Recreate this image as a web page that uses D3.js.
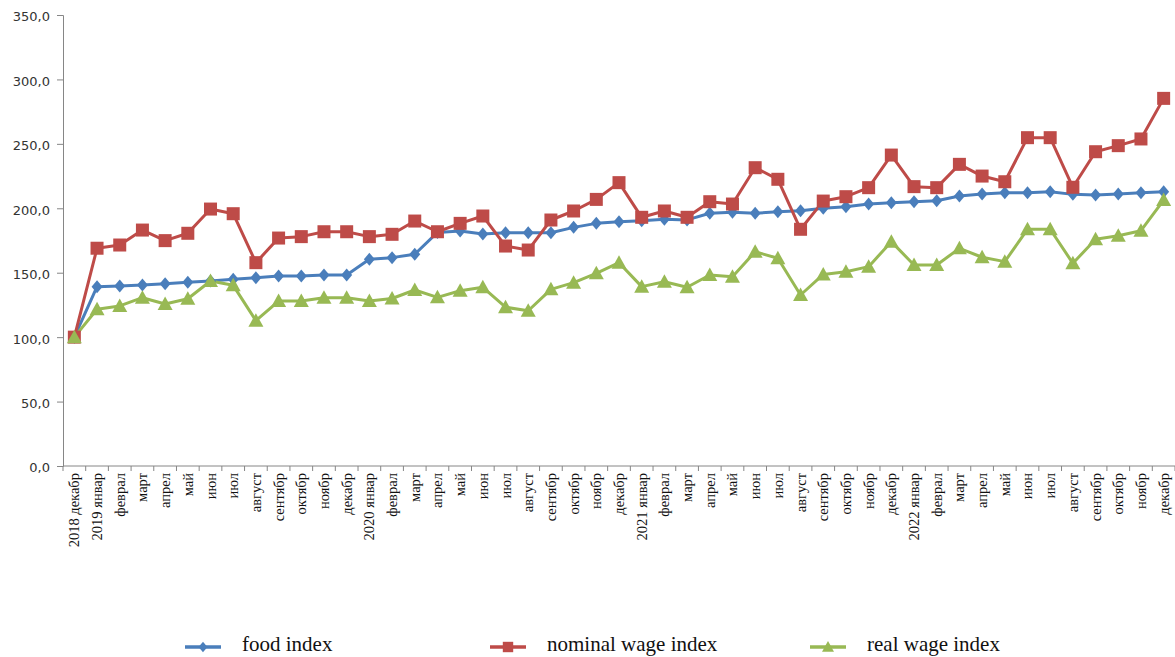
<!DOCTYPE html>
<html><head><meta charset="utf-8">
<script src="https://cdn.jsdelivr.net/npm/d3@7"></script>
<style>
html,body{margin:0;padding:0;background:#fff;}
svg{display:block;}
text{font-family:"Liberation Serif","Times New Roman",serif;}
</style></head>
<body>
<svg id="chart" width="1175" height="657"></svg>
<script>
const months = ["январ","феврал","март","апрел","май","июн","июл","август","сентябр","октябр","ноябр","декабр"];
const categories = ["2018 декабр"];
[2019,2020,2021,2022].forEach(yr => months.forEach((m,i) => categories.push(i===0 ? yr + " " + m : m)));

const foodIndex = [100,139.2,139.7,140.5,141.5,142.6,143.6,144.9,146.1,147.4,147.4,148.2,148.2,
  160.4,161.7,164.3,181.3,182.4,180,181,181,181,185.2,188.3,189.6,
  190.4,191.4,191,196.1,196.9,196.1,197.4,198.1,200,201.2,203.3,204.3,
  205.1,205.9,209.5,211.1,212.1,212.1,212.9,210.8,210.3,211.1,212.1,212.9];
const nominalWageIndex = [100,169,171.5,183.1,174.9,180.6,199.4,195.8,157.8,176.9,178,181.8,181.8,
  178,179.8,190.1,181.8,188.3,194,170.7,167.6,190.9,197.9,206.9,219.9,
  193,197.9,193,205.1,203.3,231.5,222.5,183.7,205.6,209,216,241.3,
  216.8,216,234.1,225,220.6,254.8,254.8,216.3,243.9,248.6,253.8,285.3];
const realWageIndex = [100,121.6,124.2,130.6,125.7,129.8,143.6,140.2,112.8,128,128,130.6,130.6,
  128,130,136.6,130.9,136,138.7,123.2,120.5,137.1,142.3,149.5,157.8,
  139.2,143,138.7,148.2,146.9,166.3,161.2,132.7,148.7,150.8,154.7,174.1,
  156,156,168.9,162,158.6,183.7,183.7,157.3,175.9,178.7,182.6,206.4];
const yTicks = [0,50,100,150,200,250,300,350];
const seriesNames = ["food index","nominal wage index","real wage index"];

const series = [
  {name: seriesNames[0], values: foodIndex, color:"#4A7EBB", shape:"diamond"},
  {name: seriesNames[1], values: nominalWageIndex, color:"#BE4B48", shape:"square"},
  {name: seriesNames[2], values: realWageIndex, color:"#98B954", shape:"triangle"}
];

const svg = d3.select("#chart");
const mLeft = 63, mRight = 1175, mTop = 15, mBottom = 466;

const x = d3.scaleBand().domain(d3.range(categories.length)).range([mLeft, mRight]).paddingInner(0).paddingOuter(0);
const y = d3.scaleLinear().domain([0,350]).range([mBottom, mTop]);
const cx = i => x(i) + x.bandwidth()/2;

// Y axis
const yAxis = svg.append("g").attr("transform", `translate(${mLeft},0)`)
  .call(d3.axisLeft(y).tickValues(yTicks).tickSize(6).tickPadding(7).tickFormat(d => d3.format(".1f")(d).replace(".", ",")));
yAxis.select(".domain").attr("stroke","#868686");
yAxis.selectAll(".tick line").attr("stroke","#868686");
yAxis.selectAll("text").attr("font-size","13px").attr("fill","#333").attr("dy","0.45em")
  .style("font-family","'DejaVu Sans', sans-serif");

// X axis line + ticks at band edges
const xg = svg.append("g");
xg.append("line").attr("x1", mLeft).attr("x2", mRight).attr("y1", mBottom).attr("y2", mBottom).attr("stroke","#868686");
const edges = d3.range(categories.length).map(i => x(i)).concat([x(categories.length-1) + x.bandwidth()]);
xg.selectAll("line.tk").data(edges).enter().append("line")
  .attr("x1", d => d).attr("x2", d => d).attr("y1", mBottom).attr("y2", mBottom + 5).attr("stroke","#868686");
xg.selectAll("text.lbl").data(categories).enter().append("text")
  .attr("transform", (d,i) => `translate(${cx(i) + 5},${mBottom + 7}) rotate(-90)`)
  .attr("text-anchor","end")
  .attr("font-size","14.5px").attr("fill","#111")
  .text(d => d);

// Lines
const line = d3.line().x((d,i) => cx(i)).y(d => y(d));
function marker(sel, shape, color, k) {
  k = k || 1;
  if (shape === "diamond") {
    sel.append("path").attr("d", `M0,${-6.5*k}L${5.5*k},0L0,${6.5*k}L${-5.5*k},0Z`).attr("fill", color);
  } else if (shape === "square") {
    sel.append("rect").attr("x",-6.5*k).attr("y",-6.5*k).attr("width",13*k).attr("height",13*k).attr("fill", color);
  } else {
    sel.append("path").attr("d",`M0,${-7.5*k}L${7.5*k},${6*k}L${-7.5*k},${6*k}Z`).attr("fill", color);
  }
}
series.forEach(s => {
  svg.append("path").datum(s.values).attr("d", line).attr("fill","none")
    .attr("stroke", s.color).attr("stroke-width", 3).attr("stroke-linejoin","round");
});
series.forEach(s => {
  const g = svg.append("g");
  s.values.forEach((v,i) => {
    const m = g.append("g").attr("transform", `translate(${cx(i)},${y(v)})`);
    marker(m, s.shape, s.color);
  });
});

// Legend
const legendX = [185, 490, 810];
series.forEach((s,k) => {
  const g = svg.append("g").attr("transform", `translate(${legendX[k]},647)`);
  g.append("line").attr("x1",0).attr("x2",36).attr("y1",0).attr("y2",0).attr("stroke", s.color).attr("stroke-width",3.5);
  const m = g.append("g").attr("transform","translate(18,0)");
  marker(m, s.shape, s.color, 0.8);
  g.append("text").attr("x", 57).attr("y", 4).attr("font-size","21px").attr("fill","#111").text(s.name);
});
</script>
</body></html>
